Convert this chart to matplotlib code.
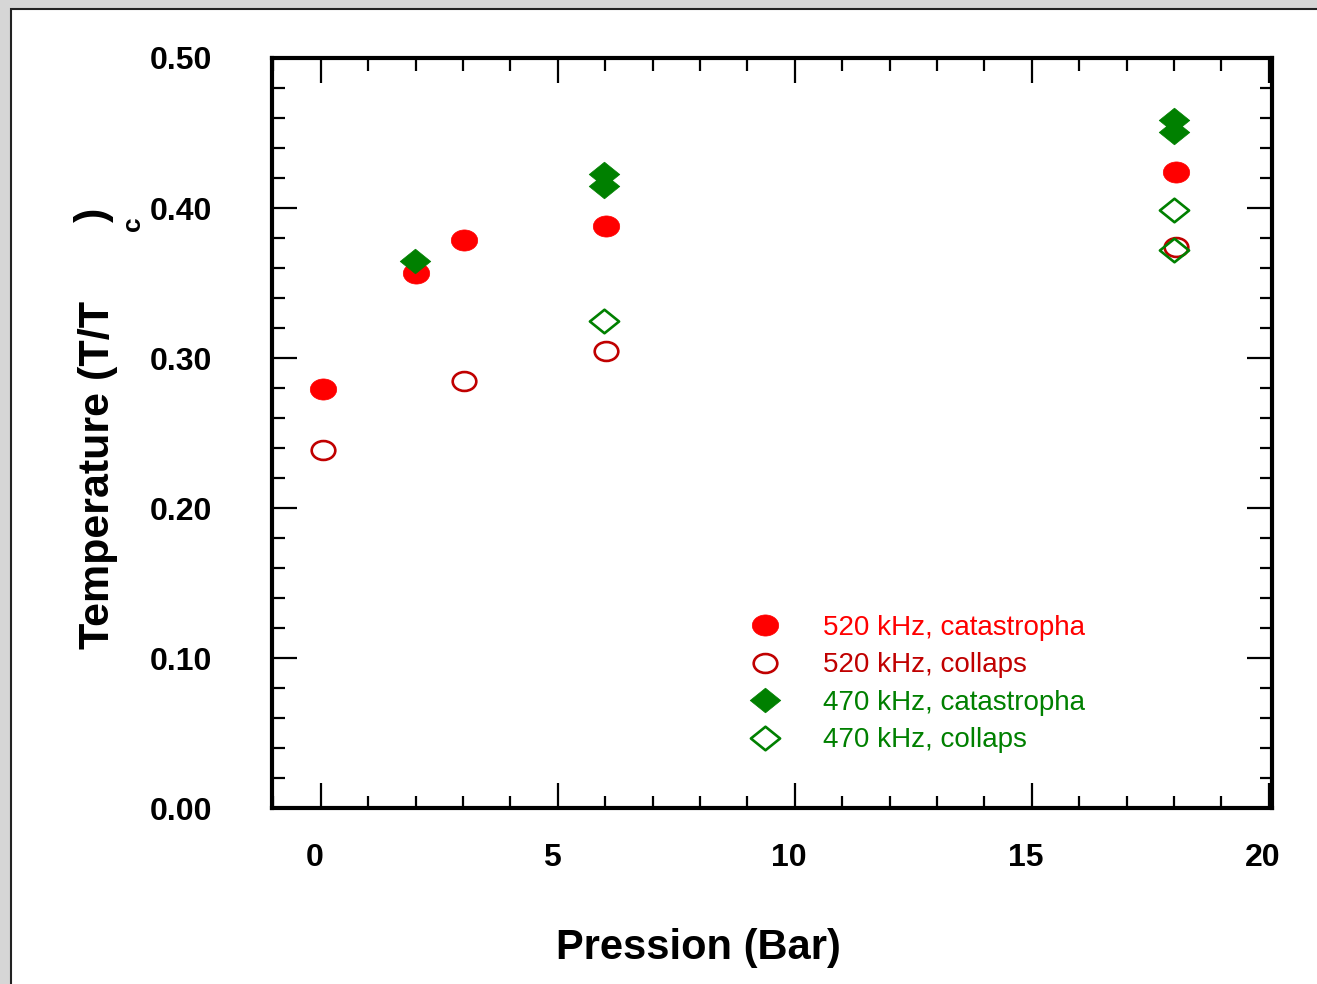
import matplotlib
matplotlib.use("Agg")
import matplotlib.pyplot as plt
import matplotlib.transforms as mtransforms
from matplotlib.path import Path
from matplotlib.patches import Rectangle
from matplotlib.ticker import MultipleLocator, FormatStrFormatter

# data
p_520_cat = [0.04, 2.0, 3.02, 6.01, 18.05]
t_520_cat = [0.279, 0.357, 0.379, 0.388, 0.424]

p_520_col = [0.04, 3.02, 6.01, 18.05]
t_520_col = [0.239, 0.285, 0.305, 0.374]

p_470_cat = [1.98, 5.97, 5.97, 18.0, 18.0]
t_470_cat = [0.365, 0.423, 0.415, 0.459, 0.451]

p_470_col = [5.97, 18.0, 18.0]
t_470_col = [0.325, 0.399, 0.372]

labels = ["520 kHz, catastropha", "520 kHz, collaps",
          "470 kHz, catastropha", "470 kHz, collaps"]
label_colors = ["#ff0000", "#c00000", "#008000", "#008000"]

plt.rcParams['font.family'] = ['Liberation Sans', 'DejaVu Sans']

# slightly squashed markers, like the original
ellipse = Path.unit_circle().transformed(mtransforms.Affine2D().scale(1.25, 1.0))
diamond = Path([(0, 1), (1.24, 0), (0, -1), (-1.24, 0), (0, 1)],
               [Path.MOVETO, Path.LINETO, Path.LINETO, Path.LINETO, Path.CLOSEPOLY])

fig = plt.figure(figsize=(13.17, 9.84), dpi=100)
fig.patch.set_facecolor('#d6d6d6')
fig.patches.append(Rectangle((11 / 1317, -0.02), 1.1, 1 - 9 / 984 + 0.02,
                             transform=fig.transFigure, facecolor='white',
                             edgecolor='#222222', linewidth=1.5, zorder=-1))

ax = fig.add_axes([272 / 1317, 1 - 808 / 984, 1000 / 1317, 750 / 984])
ax.set_facecolor('white')

ax.plot(p_520_cat, t_520_cat, linestyle='none', marker=ellipse, markersize=19,
        markerfacecolor='#ff0000', markeredgecolor='#ff0000', markeredgewidth=0.5,
        label=labels[0])
ax.plot(p_520_col, t_520_col, linestyle='none', marker=ellipse, markersize=17,
        markerfacecolor='none', markeredgecolor='#c00000', markeredgewidth=1.9,
        label=labels[1])
ax.plot(p_470_cat, t_470_cat, linestyle='none', marker=diamond, markersize=22,
        markerfacecolor='#008000', markeredgecolor='#008000', markeredgewidth=0.5,
        label=labels[2])
ax.plot(p_470_col, t_470_col, linestyle='none', marker=diamond, markersize=21,
        markerfacecolor='none', markeredgecolor='#008000', markeredgewidth=1.9,
        label=labels[3])

ax.set_xlim(-1.03, 20.07)
ax.set_ylim(0.0, 0.5)

ax.xaxis.set_major_locator(MultipleLocator(5))
ax.xaxis.set_minor_locator(MultipleLocator(1))
ax.yaxis.set_major_locator(MultipleLocator(0.1))
ax.yaxis.set_minor_locator(MultipleLocator(0.02))
ax.yaxis.set_major_formatter(FormatStrFormatter('%.2f'))

for s in ax.spines.values():
    s.set_linewidth(3)
ax.tick_params(which='both', direction='in', top=True, right=True, width=1.6)
ax.tick_params(which='major', length=18)
ax.tick_params(which='minor', length=9)
ax.tick_params(axis='y', which='major', pad=43, labelsize=23)
ax.tick_params(axis='x', which='major', pad=25, labelsize=23)
for lab in ax.get_xticklabels() + ax.get_yticklabels():
    lab.set_fontweight('bold')

# x tick labels sit a little left of their ticks in the original
shift = mtransforms.ScaledTranslation(-6 / 100, 0, fig.dpi_scale_trans)
for lab in ax.get_xticklabels():
    lab.set_transform(lab.get_transform() + shift)

# axis titles, placed as in the original (subscript drifted away)
fig.text(698 / 1317, 1 - 948 / 984, "Pression (Bar)", fontsize=30,
         fontweight='bold', ha='center', va='center')
fig.text(98 / 1317, 1 - 649 / 984, "Temperature (T/T", fontsize=31,
         fontweight='bold', rotation=90, ha='center', va='bottom')
fig.text(94 / 1317, 1 - 215 / 984, ")", fontsize=31,
         fontweight='bold', rotation=90, ha='center', va='center')
fig.text(133 / 1317, 1 - 224 / 984, "c", fontsize=19,
         fontweight='bold', rotation=90, ha='center', va='center')

leg = ax.legend(loc='upper left', bbox_to_anchor=(0.461, 0.272), frameon=False,
                fontsize=20, labelcolor=label_colors, handletextpad=1.34,
                labelspacing=0.41, handlelength=1.5, borderaxespad=0)

fig.savefig("out.png", dpi=100, facecolor=fig.get_facecolor())
